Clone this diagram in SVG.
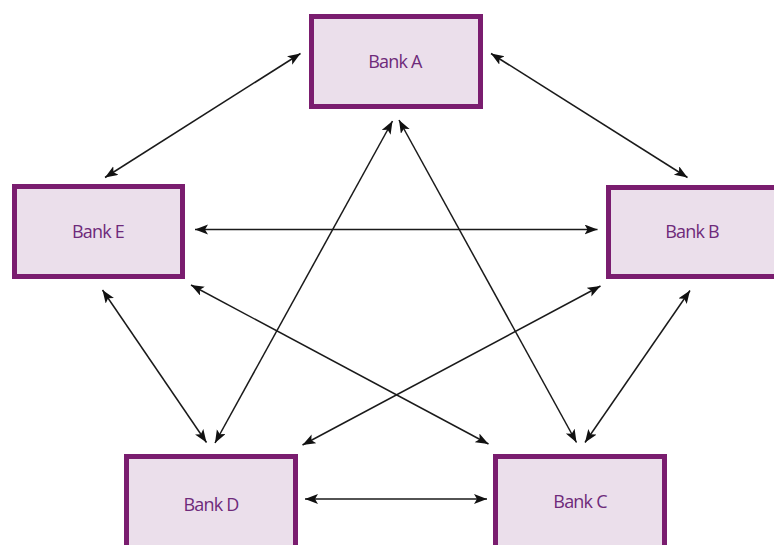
<svg xmlns="http://www.w3.org/2000/svg" width="774" height="545" viewBox="0 0 774 545">
<defs>
<style>
.box{fill:#ebdfeb;stroke:#7a1d6f;stroke-width:5}
.lbl{font-family:"Open Sans","Noto Sans",sans-serif;font-size:18px;fill:#6e2a7a;text-anchor:middle;dominant-baseline:central;letter-spacing:-0.8px}
.c{stroke:#1a1a1a;stroke-width:1.5;fill:none;marker-start:url(#ah);marker-end:url(#ah)}
</style>
<marker id="ah" markerUnits="userSpaceOnUse" markerWidth="14" markerHeight="11" refX="13" refY="5" orient="auto-start-reverse" viewBox="0 0 14 11">
<path d="M0,0 L13,5 L0,10 L3,5 z" fill="#111"/>
</marker>
</defs>
<rect width="774" height="545" fill="#fff"/>
<g id="connectors">
<line class="c" x1="300.5" y1="53.5" x2="105" y2="177.5"/>
<line class="c" x1="491" y1="53.5" x2="687.5" y2="177.5"/>
<line class="c" x1="195" y1="229.5" x2="597.5" y2="229.5"/>
<line class="c" x1="392.5" y1="121" x2="215" y2="443"/>
<line class="c" x1="399" y1="120" x2="576.5" y2="442.5"/>
<line class="c" x1="102.5" y1="290" x2="206.5" y2="442.5"/>
<line class="c" x1="191" y1="285" x2="488.5" y2="444"/>
<line class="c" x1="600.5" y1="286" x2="302.5" y2="445"/>
<line class="c" x1="690" y1="290.5" x2="585" y2="442.5"/>
<line class="c" x1="305" y1="499" x2="487" y2="499"/>
</g>
<g id="bankA"><rect class="box" x="311.5" y="16.5" width="169" height="90"/><text class="lbl" x="395" y="61">Bank A</text></g>
<g id="bankE"><rect class="box" x="14.5" y="186.5" width="168" height="90"/><text class="lbl" x="98" y="231">Bank E</text></g>
<g id="bankB"><rect class="box" x="608.5" y="187.5" width="168" height="89"/><text class="lbl" x="692" y="231">Bank B</text></g>
<g id="bankD"><rect class="box" x="126.5" y="456.5" width="169" height="100"/><text class="lbl" x="211" y="504">Bank D</text></g>
<g id="bankC"><rect class="box" x="495.5" y="456.5" width="169" height="100"/><text class="lbl" x="580" y="501">Bank C</text></g>
</svg>
